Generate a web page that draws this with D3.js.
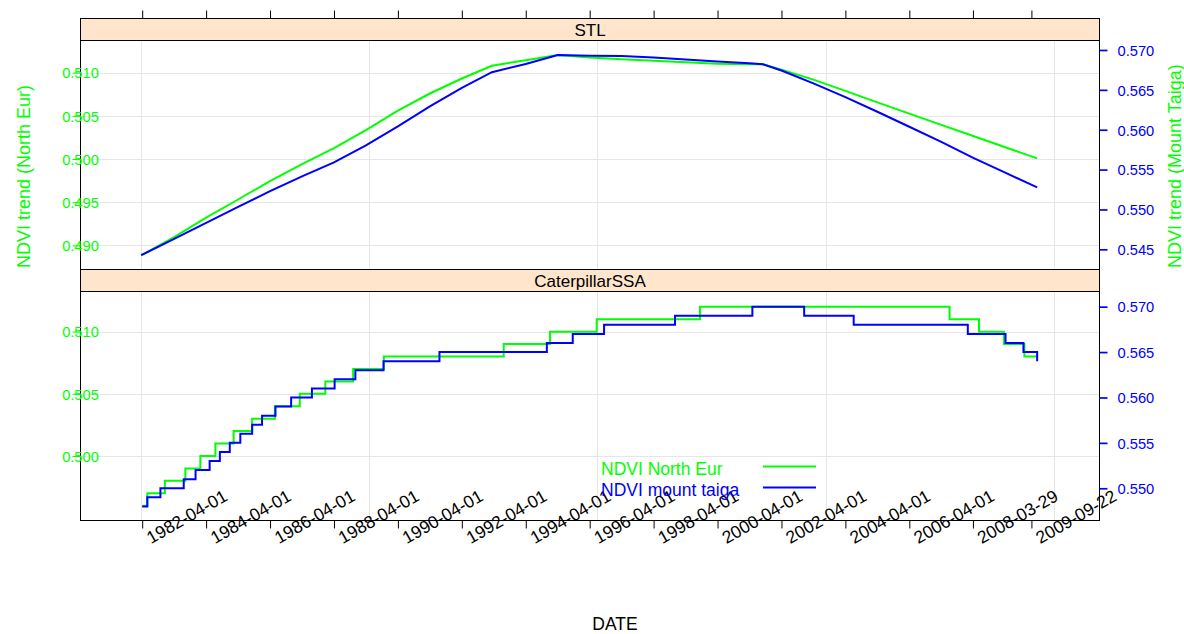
<!DOCTYPE html>
<html>
<head>
<meta charset="utf-8">
<script src="https://cdn.jsdelivr.net/npm/d3@7"></script>
<style>
  html, body { margin: 0; padding: 0; background: #ffffff; }
  svg { display: block; font-family: "Liberation Sans", Arial, Helvetica, sans-serif; }
</style>
</head>
<body>
<svg id="chart" width="1184" height="634"></svg>
<script>
// ---- data (time in decimal years) ----
// STL trend components
const stlTime = [1982.22, 1983.25, 1984.25, 1985.25, 1986.25, 1987.25, 1988.25, 1989.25, 1990.25,
  1991.25, 1992.25, 1993.19, 1994.25, 1995.25, 1996.25, 1997.25, 1998.25, 1999.25, 2000.25,
  2001.25, 2001.67, 2002.25, 2003.25, 2004.25, 2005.25, 2006.25, 2007.25, 2008.25, 2009.25, 2010.25];
const stlNorthEur = [0.48885, 0.49095, 0.49321, 0.49531, 0.49744, 0.49940, 0.50127, 0.50335, 0.50560,
  0.50759, 0.50933, 0.51081, 0.51145, 0.51205, 0.51176, 0.51156, 0.51139, 0.51121, 0.51104,
  0.51097, 0.51097, 0.51034, 0.50920, 0.50790, 0.50656, 0.50526, 0.50395, 0.50267, 0.50137, 0.50008];
const stlMountTaiga = [0.54426, 0.54632, 0.54832, 0.55032, 0.55229, 0.55416, 0.55590, 0.55803, 0.56043,
  0.56294, 0.56526, 0.56722, 0.56824, 0.56937, 0.56929, 0.56925, 0.56906, 0.56880, 0.56855,
  0.56834, 0.56821, 0.56743, 0.56582, 0.56408, 0.56225, 0.56037, 0.55847, 0.55647, 0.55461, 0.55278];

// Caterpillar SSA trend: times at which each level begins
const ssaNorthTime = [1982.25, 1982.41, 1982.96, 1983.60, 1984.07, 1984.54, 1985.11, 1985.69, 1986.40,
  1987.18, 1987.98, 1988.85, 1989.81, 1993.56, 1995.01, 1996.47, 1999.70, 2007.51, 2008.43,
  2009.21, 2009.85, 2010.25];
const ssaNorthEur = [0.496, 0.497, 0.498, 0.499, 0.500, 0.501, 0.502, 0.503, 0.504,
  0.505, 0.506, 0.507, 0.508, 0.509, 0.510, 0.511, 0.512, 0.511, 0.510,
  0.509, 0.508, 0.508];
const ssaTaigaTime = [1982.25, 1982.41, 1982.82, 1983.55, 1983.92, 1984.36, 1984.68, 1984.99, 1985.32,
  1985.69, 1986.00, 1986.42, 1986.91, 1987.56, 1988.27, 1988.92, 1989.80, 1991.55, 1994.91,
  1995.72, 1996.70, 1998.92, 2001.34, 2002.96, 2004.51, 2008.08, 2009.26, 2009.82, 2010.25];
const ssaMountTaiga = [0.548, 0.549, 0.550, 0.551, 0.552, 0.553, 0.554, 0.555, 0.556,
  0.557, 0.558, 0.559, 0.560, 0.561, 0.562, 0.563, 0.564, 0.565, 0.566,
  0.567, 0.568, 0.569, 0.570, 0.569, 0.568, 0.567, 0.566, 0.565, 0.564];

const panelNames = ["STL", "CaterpillarSSA"];
const xTickPos = [1982.25, 1984.25, 1986.25, 1988.25, 1990.25, 1992.25, 1994.25, 1996.25, 1998.25,
  2000.25, 2002.25, 2004.25, 2006.25, 2008.24, 2010.07];
const xTickLabels = ["1982-04-01", "1984-04-01", "1986-04-01", "1988-04-01", "1990-04-01", "1992-04-01",
  "1994-04-01", "1996-04-01", "1998-04-01", "2000-04-01", "2002-04-01", "2004-04-01", "2006-04-01",
  "2008-03-29", "2009-09-22"];
const xGridPos = [1982.20, 1989.34, 1996.48, 2003.63, 2010.77];
const leftTicks = [[0.490, 0.495, 0.500, 0.505, 0.510], [0.500, 0.505, 0.510]];
const rightTicks = [[0.545, 0.550, 0.555, 0.560, 0.565, 0.570], [0.550, 0.555, 0.560, 0.565, 0.570]];
const leftDomain = [[0.48720, 0.51373], [0.49481, 0.51323]];
const rightDomain = [[0.54247, 0.57119], [0.54645, 0.57167]];
const seriesNames = ["NDVI North Eur", "NDVI mount taiga"];
const yTitles = ["NDVI trend (North Eur)", "NDVI trend (Mount Taiga)"];
const xTitle = "DATE";

// ---- layout & style ----
const GREEN = "#00ff00", BLUE = "#0000ff";
const left = 80.5, right = 1099.5;
const panels = [
  { stripTop: 18.5, top: 40.5, bottom: 269.5 },
  { stripTop: 269.5, top: 291.5, bottom: 520.5 }
];

const svg = d3.select("#chart");
const x = d3.scaleLinear().domain([1980.32, 2012.20]).range([left, right]);

const panelData = [
  { green: stlTime.map((t, i) => [t, stlNorthEur[i]]),
    blue: stlTime.map((t, i) => [t, stlMountTaiga[i]]),
    curve: d3.curveLinear },
  { green: ssaNorthTime.map((t, i) => [t, ssaNorthEur[i]]),
    blue: ssaTaigaTime.map((t, i) => [t, ssaMountTaiga[i]]),
    curve: d3.curveStepAfter }
];

panels.forEach((p, k) => {
  const yL = d3.scaleLinear().domain(leftDomain[k]).range([p.bottom, p.top]);
  const yR = d3.scaleLinear().domain(rightDomain[k]).range([p.bottom, p.top]);
  const g = svg.append("g");

  // strip
  g.append("rect").attr("x", left).attr("y", p.stripTop)
    .attr("width", right - left).attr("height", p.top - p.stripTop)
    .attr("fill", "#ffe5cc").attr("stroke", "#000").attr("stroke-width", 1);
  g.append("text").attr("x", (left + right) / 2).attr("y", (p.stripTop + p.top) / 2)
    .attr("dy", "0.36em").attr("text-anchor", "middle")
    .attr("font-size", "17px").attr("fill", "#000").text(panelNames[k]);

  // grid
  g.selectAll(".hg").data(leftTicks[k]).join("line")
    .attr("x1", left).attr("x2", right)
    .attr("y1", d => Math.round(yL(d)) + 0.5).attr("y2", d => Math.round(yL(d)) + 0.5)
    .attr("stroke", "#e6e6e6").attr("stroke-width", 1);
  g.selectAll(".vg").data(xGridPos).join("line")
    .attr("x1", d => Math.round(x(d)) + 0.5).attr("x2", d => Math.round(x(d)) + 0.5)
    .attr("y1", p.top).attr("y2", p.bottom)
    .attr("stroke", "#e6e6e6").attr("stroke-width", 1);

  // series
  const lineG = d3.line().x(d => x(d[0])).y(d => yL(d[1])).curve(panelData[k].curve);
  const lineB = d3.line().x(d => x(d[0])).y(d => yR(d[1])).curve(panelData[k].curve);
  g.append("path").attr("d", lineG(panelData[k].green))
    .attr("fill", "none").attr("stroke", GREEN).attr("stroke-width", 2);
  g.append("path").attr("d", lineB(panelData[k].blue))
    .attr("fill", "none").attr("stroke", BLUE).attr("stroke-width", 2);

  // panel border
  g.append("rect").attr("x", left).attr("y", p.top)
    .attr("width", right - left).attr("height", p.bottom - p.top)
    .attr("fill", "none").attr("stroke", "#000").attr("stroke-width", 1);

  // left axis (green)
  const la = d3.axisLeft(yL).tickValues(leftTicks[k]).tickSize(8).tickPadding(0)
    .tickFormat(d3.format(".3f"));
  const lg = g.append("g").attr("transform", `translate(${left},0)`).call(la);
  lg.select(".domain").remove();
  lg.selectAll("line").attr("stroke", GREEN);
  lg.selectAll("text").attr("fill", GREEN).attr("font-size", "14.7px")
    .attr("font-family", "Liberation Sans, Arial, sans-serif")
    .attr("text-anchor", "middle").attr("x", 0).attr("dy", "0.36em");

  // right axis (blue)
  const ra = d3.axisRight(yR).tickValues(rightTicks[k]).tickSize(8).tickPadding(10)
    .tickFormat(d3.format(".3f"));
  const rg = g.append("g").attr("transform", `translate(${right},0)`).call(ra);
  rg.select(".domain").remove();
  rg.selectAll("line").attr("stroke", BLUE).attr("stroke-width", 1.7);
  rg.selectAll("text").attr("fill", BLUE).attr("font-size", "14.7px")
    .attr("font-family", "Liberation Sans, Arial, sans-serif").attr("dy", "0.36em");
});

// top ticks above first strip
const topAxis = d3.axisTop(x).tickValues(xTickPos).tickSize(8).tickFormat("");
const tg = svg.append("g").attr("transform", `translate(0,${panels[0].stripTop})`).call(topAxis);
tg.select(".domain").remove();
tg.selectAll("line").attr("stroke", "#000");

// bottom axis with rotated date labels
const botAxis = d3.axisBottom(x).tickValues(xTickPos).tickSize(8)
  .tickFormat((d, i) => xTickLabels[i]);
const bg = svg.append("g").attr("transform", `translate(0,${panels[1].bottom})`).call(botAxis);
bg.select(".domain").remove();
bg.selectAll("line").attr("stroke", "#000");
bg.selectAll("text")
  .attr("font-size", "17.5px").attr("font-family", "Liberation Sans, Arial, sans-serif")
  .attr("fill", "#000").attr("text-anchor", "middle")
  .attr("y", 0).attr("dy", "0.36em")
  .attr("transform", "translate(44,-4) rotate(-30)");

// axis titles
svg.append("text").attr("transform", "translate(29.5,268) rotate(-90)")
  .attr("font-size", "18px").attr("fill", GREEN).text(yTitles[0]);
svg.append("text").attr("transform", "translate(1181,268) rotate(-90)")
  .attr("font-size", "18px").attr("fill", GREEN).text(yTitles[1]);
svg.append("text").attr("x", 615).attr("y", 630).attr("text-anchor", "middle")
  .attr("font-size", "17.5px").attr("fill", "#000").text(xTitle);

// legend
const legend = svg.append("g");
[GREEN, BLUE].forEach((c, i) => {
  const yy = 475 + i * 21;
  legend.append("text").attr("x", 601).attr("y", yy)
    .attr("font-size", "17.5px").attr("fill", c).text(seriesNames[i]);
  legend.append("line").attr("x1", 763).attr("x2", 816)
    .attr("y1", yy - 8.5).attr("y2", yy - 8.5)
    .attr("stroke", c).attr("stroke-width", 2);
});
</script>
</body>
</html>
